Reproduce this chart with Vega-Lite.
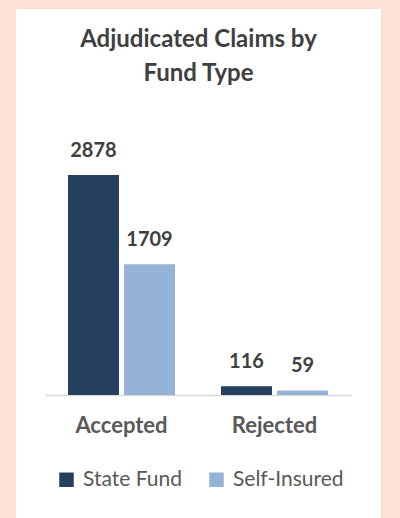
{
  "$schema": "https://vega.github.io/schema/vega-lite/v6.json",
  "width": 365,
  "height": 509,
  "autosize": {"type": "none"},
  "padding": {"left": 16, "top": 9, "right": 19, "bottom": 0},
  "background": "#FBE2D5",
  "config": {"view": {"fill": "white", "stroke": null}, "font": "Lato"},
  "title": {
    "text": ["Adjudicated Claims by", "Fund Type"],
    "fontSize": 24,
    "fontWeight": "bold",
    "color": "#404040",
    "anchor": "middle",
    "lineHeight": 34,
    "offset": -77
  },
  "data": {
    "values": [
      {"status": "Accepted", "fund": "State Fund", "claims": 2878},
      {"status": "Accepted", "fund": "Self-Insured", "claims": 1709},
      {"status": "Rejected", "fund": "State Fund", "claims": 116},
      {"status": "Rejected", "fund": "Self-Insured", "claims": 59}
    ]
  },
  "encoding": {
    "x": {
      "field": "status",
      "type": "nominal",
      "sort": ["Accepted", "Rejected"],
      "scale": {"range": [29, 335], "paddingInner": 0, "paddingOuter": 0},
      "axis": {
        "title": null,
        "orient": "bottom",
        "offset": -123,
        "domainColor": "#D9D9D9",
        "domainWidth": 1.5,
        "ticks": false,
        "tickSize": 0,
        "labelAngle": 0,
        "labelFont": "Lato",
        "labelFontSize": 22,
        "labelFontWeight": "bold",
        "labelColor": "#595959",
        "labelPadding": 37,
        "labelBaseline": "alphabetic"
      }
    },
    "xOffset": {
      "field": "fund",
      "type": "nominal",
      "sort": ["State Fund", "Self-Insured"],
      "scale": {"paddingInner": 0.09, "paddingOuter": 0.41}
    },
    "y": {
      "field": "claims",
      "type": "quantitative",
      "scale": {"domain": [0, 5050], "range": [386, 0], "nice": false, "zero": true},
      "axis": null
    }
  },
  "layer": [
    {
      "mark": {"type": "bar"},
      "encoding": {
        "color": {
          "field": "fund",
          "type": "nominal",
          "sort": ["State Fund", "Self-Insured"],
          "scale": {"domain": ["State Fund", "Self-Insured"], "range": ["#253F5E", "#95B3D7"]},
          "legend": {
            "title": null,
            "orient": "none",
            "legendX": 40,
            "legendY": 460,
            "direction": "horizontal",
            "symbolType": "square",
            "symbolSize": 210,
            "symbolStrokeWidth": 0,
            "symbolOpacity": 1,
            "labelFont": "Lato",
            "labelFontSize": 21,
            "labelColor": "#595959",
            "labelOffset": 6,
            "columnPadding": 24
          }
        }
      }
    },
    {
      "mark": {"type": "text", "baseline": "alphabetic", "dy": -18, "fontSize": 20, "fontWeight": "bold", "color": "#404040"},
      "encoding": {"text": {"field": "claims", "type": "quantitative"}}
    }
  ]
}
